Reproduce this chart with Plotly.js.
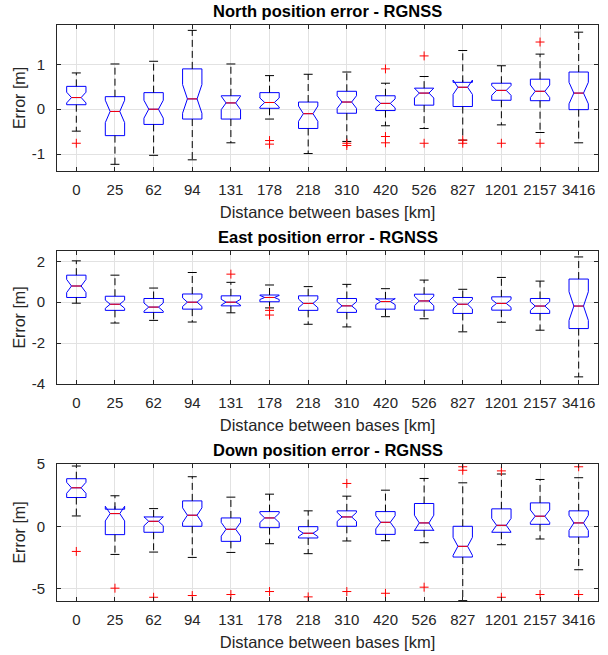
<!DOCTYPE html>
<html><head><meta charset="utf-8">
<script src="https://cdn.plot.ly/plotly-3.0.1.min.js"></script>
<style>body{margin:0;padding:0;background:#fff}#chart{width:608px;height:655px}</style>
</head><body><div id="chart"></div>
<script>
const categories = ['0','25','62','94','131','178','218','310','420','526','827','1201','2157','3416'];

// North position error
const northLW  = [-0.49,-1.23,-1.03,-1.13,-0.75,-0.22,-0.99,-0.72,-0.37,-0.43,-0.69,-0.35,-0.52,-0.75];
const northQ1  = [ 0.10,-0.59,-0.34,-0.22,-0.22, 0.02,-0.43,-0.09,-0.03, 0.09, 0.06, 0.20, 0.19,-0.01];
const northMed = [ 0.26,-0.05, 0.00, 0.23, 0.14, 0.15,-0.10, 0.16, 0.13, 0.36, 0.49, 0.42, 0.40, 0.36];
const northQ3  = [ 0.51, 0.28, 0.37, 0.90, 0.30, 0.37, 0.16, 0.40, 0.30, 0.47, 0.60, 0.58, 0.67, 0.83];
const northUW  = [ 0.81, 1.01, 1.07, 1.76, 1.01, 0.75, 0.78, 0.83, 0.58, 0.73, 1.31, 0.97, 1.23, 1.72];
const northNotch = [0.12,0.25,0.20,0.32,0.15,0.10,0.17,0.14,0.10,0.11,0.16,0.11,0.14,0.24];
const northOutX = ['0','178','178','310','310','420','420','420','526','526','827','827','1201','2157','2157'];
const northOutY = [-0.76,-0.70,-0.78,-0.76,-0.81,0.90,-0.61,-0.75,1.19,-0.76,-0.69,-0.76,-0.76,1.50,-0.76];

// East position error
const eastLW  = [-0.05,-1.02,-0.89,-0.97,-0.52,-0.28,-1.08,-1.21,-0.71,-0.81,-1.45,-0.98,-1.37,-3.65];
const eastQ1  = [ 0.23,-0.40,-0.50,-0.34,-0.18, 0.02,-0.40,-0.50,-0.34,-0.39,-0.55,-0.39,-0.55,-1.29];
const eastMed = [ 0.79,-0.10,-0.24, 0.00, 0.00, 0.23,-0.06,-0.18, 0.03, 0.06,-0.10,-0.06,-0.19,-0.19];
const eastQ3  = [ 1.32, 0.29, 0.18, 0.40, 0.31, 0.35, 0.31, 0.18, 0.16, 0.39, 0.23, 0.26, 0.18, 1.13];
const eastUW  = [ 2.02, 1.32, 0.69, 1.45, 0.97, 0.84, 0.76, 0.87, 0.66, 1.08, 0.63, 1.21, 1.03, 2.21];
const eastNotch = [0.32,0.20,0.20,0.21,0.14,0.10,0.21,0.20,0.15,0.23,0.23,0.19,0.21,0.70];
const eastOutX = ['131','178','178'];
const eastOutY = [1.37,-0.40,-0.63];

// Down position error
const downLW  = [ 0.83,-2.26,-2.07,-2.50,-2.10,-1.40,-2.20,-1.18,-1.16,-1.32,-5.97,-1.48,-1.02,-3.49];
const downQ1  = [ 2.31,-0.67,-0.48, 0.00,-1.21,-0.11,-0.94, 0.00,-0.65,-0.32,-2.47,-0.48, 0.16,-0.86];
const downMed = [ 3.09, 1.02, 0.40, 0.89,-0.24, 0.67,-0.56, 0.75, 0.32, 0.27,-1.61, 0.08, 0.81, 0.27];
const downQ3  = [ 3.82, 1.37, 0.75, 2.04, 0.67, 1.18,-0.03, 1.24, 1.18, 1.83, 0.00, 1.40, 1.88, 1.24];
const downUW  = [ 4.84, 2.45, 1.42, 3.98, 2.34, 2.58, 1.24, 2.42, 2.90, 3.84, 3.49, 4.20, 3.76, 3.90];
const downNotch = [0.44,0.59,0.36,0.59,0.55,0.37,0.26,0.36,0.53,0.62,0.72,0.55,0.50,0.61];
const downOutX = ['0','25','62','94','131','178','218','310','310','420','526','827','827','1201','1201','2157','3416','3416'];
const downOutY = [-2.02,-4.97,-5.70,-5.56,-5.48,-5.24,-5.67,3.44,-5.24,-5.38,-4.89,4.78,4.50,4.45,-5.70,-5.48,4.78,-5.48];

const titles = ['North position error - RGNSS','East position error - RGNSS','Down position error - RGNSS'];
const xTitle = 'Distance between bases [km]';
const yTitle = 'Error [m]';
const yTickVals = [[-1,0,1],[-4,-2,0,2],[-5,0,5]];
const yTickText = [['-1','0','1'],['-4','-2','0','2'],['-5','0','5']];
const yRanges = [[-1.38,1.88],[-4,2.5],[-6,5]];

const FONT = 'Liberation Sans, Arial, Helvetica, sans-serif';
const TXT = '#262626';

function panel(k, lw, q1, med, q3, uw, notch, outX, outY) {
  const xa = k === 0 ? 'x' : 'x' + (k + 1);
  const ya = k === 0 ? 'y' : 'y' + (k + 1);
  const traces = [];
  traces.push({
    type: 'box', x: categories, q1: q1, median: med, q3: q3,
    lowerfence: q1, upperfence: q3, notched: true, notchspan: notch,
    notchwidth: 0.25, width: 0.5, whiskerwidth: 0,
    line: {color: '#0000ff', width: 1}, fillcolor: 'rgba(0,0,0,0)',
    xaxis: xa, yaxis: ya, showlegend: false, hoverinfo: 'skip', boxpoints: false
  });
  const wx = [], wy = [];
  categories.forEach((c, i) => {
    wx.push(c, c, c, c, c, c);
    wy.push(q3[i], uw[i], null, q1[i], lw[i], null);
  });
  traces.push({
    type: 'scatter', mode: 'lines', x: wx, y: wy, connectgaps: false,
    line: {color: '#000000', width: 1, dash: '7px,4px'},
    xaxis: xa, yaxis: ya, showlegend: false, hoverinfo: 'skip'
  });
  traces.push({
    type: 'scatter', mode: 'markers', x: categories.concat(categories), y: uw.concat(lw),
    marker: {symbol: 'line-ew', size: 6.4, line: {color: '#000000', width: 1}},
    xaxis: xa, yaxis: ya, showlegend: false, hoverinfo: 'skip'
  });
  traces.push({
    type: 'scatter', mode: 'markers', x: categories, y: med,
    marker: {symbol: 'line-ew', size: 6.9, line: {color: '#ff0000', width: 1}},
    xaxis: xa, yaxis: ya, showlegend: false, hoverinfo: 'skip'
  });
  traces.push({
    type: 'scatter', mode: 'markers', x: outX, y: outY,
    marker: {symbol: 'cross-thin', size: 6.4, line: {color: '#ff0000', width: 1}},
    xaxis: xa, yaxis: ya, showlegend: false, hoverinfo: 'skip'
  });
  return traces;
}

const data = [].concat(
  panel(0, northLW, northQ1, northMed, northQ3, northUW, northNotch, northOutX, northOutY),
  panel(1, eastLW, eastQ1, eastMed, eastQ3, eastUW, eastNotch, eastOutX, eastOutY),
  panel(2, downLW, downQ1, downMed, downQ3, downUW, downNotch, downOutX, downOutY)
);

const domains = [[0.7465, 1], [0.3767, 0.6076], [0, 0.2378]];
const layout = {
  width: 608, height: 655,
  margin: {l: 57, r: 10, t: 25, b: 54},
  paper_bgcolor: '#ffffff', plot_bgcolor: '#ffffff',
  font: {family: FONT, color: TXT, size: 15},
  showlegend: false,
  annotations: []
};
for (let k = 0; k < 3; k++) {
  const xk = k === 0 ? 'xaxis' : 'xaxis' + (k + 1);
  const yk = k === 0 ? 'yaxis' : 'yaxis' + (k + 1);
  const yref = k === 0 ? 'y' : 'y' + (k + 1);
  const xref = k === 0 ? 'x' : 'x' + (k + 1);
  layout[xk] = {
    type: 'category', categoryorder: 'array', categoryarray: categories,
    range: [-0.5, 13.5], domain: [0, 1], anchor: yref,
    showgrid: true, gridcolor: '#e2e2e2', gridwidth: 1,
    showline: true, linecolor: TXT, linewidth: 1, mirror: 'ticks',
    ticks: 'inside', ticklen: 4, tickcolor: TXT, ticklabelstandoff: 5,
    tickfont: {family: FONT, size: 15, color: TXT},
    zeroline: false, fixedrange: true,
    title: {text: xTitle, font: {family: FONT, size: 16.5, color: TXT}, standoff: 9}
  };
  layout[yk] = {
    range: yRanges[k], domain: domains[k], anchor: xref,
    tickvals: yTickVals[k], ticktext: yTickText[k],
    showgrid: true, gridcolor: '#e2e2e2', gridwidth: 1,
    showline: true, linecolor: TXT, linewidth: 1, mirror: 'ticks',
    ticks: 'inside', ticklen: 4, tickcolor: TXT, ticklabelstandoff: 8,
    tickfont: {family: FONT, size: 15, color: TXT},
    zeroline: false, fixedrange: true,
    title: {text: yTitle, font: {family: FONT, size: 16, color: TXT}, standoff: 2}
  };
  layout.annotations.push({
    text: '<b>' + titles[k] + '</b>', xref: 'paper', x: 0.5, xanchor: 'center',
    yref: yref + ' domain', y: 1, yanchor: 'bottom', yshift: 3, showarrow: false,
    font: {family: FONT, size: 16.5, color: '#000000'}
  });
}
Plotly.newPlot('chart', data, layout, {staticPlot: true, displayModeBar: false});
</script>
</body></html>
